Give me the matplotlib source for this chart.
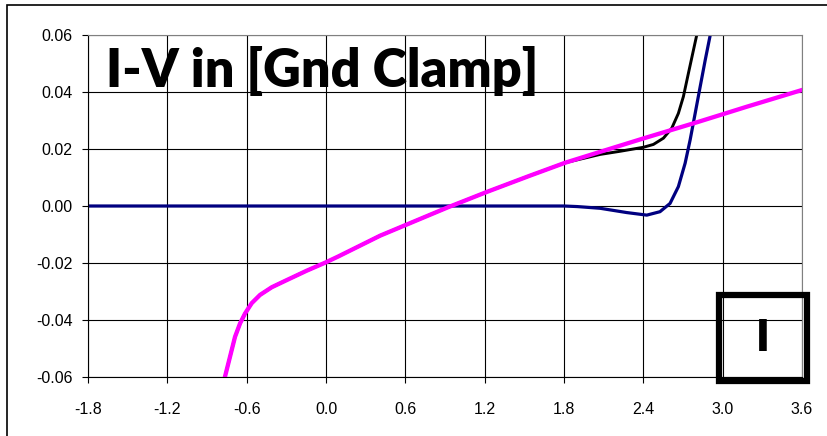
import numpy as np
import matplotlib.pyplot as plt
from matplotlib.patches import Rectangle

# magenta curve
mag_v = [-0.764, -0.726, -0.688, -0.65, -0.612, -0.562, -0.499, -0.41, -0.297, -0.146, -0.007, 0.093,
         0.41, 0.92, 1.22, 1.54, 1.81, 2.073, 2.4, 2.8, 3.056, 3.18, 3.6]
mag_i = [-0.0599, -0.0529, -0.0459, -0.0412, -0.0377, -0.0341, -0.0312, -0.0285, -0.026, -0.0227, -0.0199, -0.0177,
         -0.0104, -0.0005, 0.005, 0.0106, 0.0152, 0.019, 0.0237, 0.0293, 0.0330, 0.0348, 0.0407]

# navy curve
navy_v = [-1.8, 0.0, 1.2, 1.8, 1.9, 2.073, 2.274, 2.426, 2.526, 2.602, 2.665, 2.716, 2.754, 2.792, 2.83, 2.868, 2.906, 2.94]
navy_i = [0.0, 0.0, 0.0, 0.0, -0.0002, -0.0008, -0.0023, -0.0032, -0.002, 0.0009, 0.0068, 0.015, 0.0232, 0.0325, 0.0419, 0.0512, 0.060, 0.068]

# black curve (hidden under magenta up to ~1.8 V)
blk_v = [-0.764, -0.726, -0.688, -0.65, -0.612, -0.562, -0.499, -0.41, -0.297, -0.146, -0.007, 0.093,
         0.41, 0.92, 1.22, 1.54, 1.81, 2.073, 2.224, 2.4, 2.476, 2.552, 2.615, 2.665, 2.703, 2.741, 2.779, 2.804, 2.83]
blk_i = [-0.0599, -0.0529, -0.0459, -0.0412, -0.0377, -0.0341, -0.0312, -0.0285, -0.026, -0.0227, -0.0199, -0.0177,
         -0.0104, -0.0005, 0.005, 0.0106, 0.0152, 0.0181, 0.0192, 0.0206, 0.0216, 0.0238, 0.0273, 0.0325, 0.0384, 0.0466, 0.0547, 0.060, 0.067]

xticks = [-1.8, -1.2, -0.6, 0.0, 0.6, 1.2, 1.8, 2.4, 3.0, 3.6]
yticks = [-0.06, -0.04, -0.02, 0.0, 0.02, 0.04, 0.06]

plt.rcParams['font.family'] = ['Liberation Sans', 'DejaVu Sans']

fig = plt.figure(figsize=(8.27, 4.36), dpi=100)
ax = fig.add_axes([88/827, 1-377/436, 714/827, 342/436])

ax.plot(blk_v, blk_i, color='black', lw=2.1, solid_joinstyle='round')
ax.plot(navy_v, navy_i, color='#000080', lw=2.3, solid_joinstyle='round')
ax.plot(mag_v, mag_i, color='#FF00FF', lw=3.1, solid_joinstyle='round')

ax.set_xlim(-1.8, 3.6)
ax.set_ylim(-0.06, 0.06)
ax.set_xticks(xticks)
ax.set_yticks(yticks)
ax.set_xticklabels([f'{t:.1f}' for t in xticks])
ax.set_yticklabels([f'{t:.2f}' for t in yticks])
ax.tick_params(axis='x', direction='out', length=4, width=0.8, pad=14, labelsize=11.5)
ax.tick_params(axis='y', direction='out', length=4, width=0.8, pad=7, labelsize=11.5)
ax.grid(True, color='black', lw=0.8)
ax.set_axisbelow(True)
for side in ['top', 'right']:
    ax.spines[side].set_color('#808080')
for side in ['left', 'bottom']:
    ax.spines[side].set_color('black')

# big label inside the plot
ax.text(-1.664, 0.0416, 'I-V in [Gnd Clamp]', fontsize=37.5, fontweight='heavy',
        family=['Lato', 'DejaVu Sans'], ha='left', va='baseline')

# boxed "I" in the corner
box = Rectangle((719/827, 1-381/436), 88/827, 86/436, transform=fig.transFigure,
                fill=False, ec='black', lw=4.5, zorder=5)
fig.add_artist(box)
fig.text(763/827, 1-338/436, 'I', fontsize=32, fontweight='heavy',
         family=['Lato', 'DejaVu Sans'], ha='center', va='center')

# outer frame of the chart area
frame = Rectangle((7/827, -0.1), 1.2, 1.1 - 5/436, transform=fig.transFigure,
                  fill=False, ec='black', lw=1.2)
fig.add_artist(frame)

fig.savefig('out.png', dpi=100)
